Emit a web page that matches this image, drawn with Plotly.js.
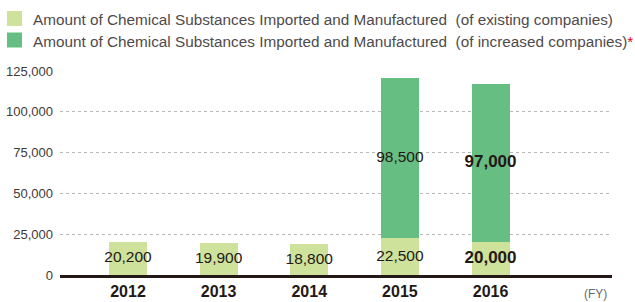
<!DOCTYPE html>
<html>
<head>
<meta charset="utf-8">
<script src="https://cdn.plot.ly/plotly-3.0.1.min.js"></script>
<style>html,body{margin:0;padding:0;background:#fff;}#chart{width:635px;height:302px;}</style>
</head>
<body>
<div id="chart"></div>
<script>
// ---- data ----
var years = ['2012', '2013', '2014', '2015', '2016'];
var existing = [20200, 19900, 18800, 22500, 20000];
var increased = [null, null, null, 98500, 97000];
var yTicks = [0, 25000, 50000, 75000, 100000, 125000];
var seriesNames = [
  'Amount of Chemical Substances Imported and Manufactured  (of existing companies)',
  'Amount of Chemical Substances Imported and Manufactured  (of increased companies)<span style="color:#e60012">*</span>'
];
var seriesColors = ['#cee29b', '#67be83'];
var highlightYear = '2016';

// ---- styles ----
var SANS = "'Liberation Sans', Arial, sans-serif";
var DARK = '#231815';
var fmt = function (v) { return v.toLocaleString('en-US'); };
var lbl = function (v, y) { return y === highlightYear ? '<b>' + fmt(v) + '</b>' : fmt(v); };
var lblSize = function (y) { return y === highlightYear ? 17 : 15.5; };

// label traces built from data
var exX = [], exY = [], exText = [], exSize = [];
existing.forEach(function (v, i) {
  exX.push(years[i]); exY.push(v / 2); exText.push(lbl(v, years[i])); exSize.push(lblSize(years[i]));
});
var incX = [], incY = [], incText = [], incSize = [];
increased.forEach(function (v, i) {
  if (v != null) {
    incX.push(years[i]); incY.push(existing[i] + v / 2);
    incText.push(lbl(v, years[i])); incSize.push(lblSize(years[i]));
  }
});

var traces = [
  { type: 'bar', x: years, y: existing, name: seriesNames[0],
    marker: { color: seriesColors[0] }, width: 0.419, hoverinfo: 'skip', showlegend: false },
  { type: 'bar', x: years, y: increased, name: seriesNames[1],
    marker: { color: seriesColors[1] }, width: 0.419, hoverinfo: 'skip', showlegend: false },
  { type: 'scatter', mode: 'text', x: exX, y: exY, text: exText,
    textposition: 'middle center', cliponaxis: false, showlegend: false, hoverinfo: 'skip',
    textfont: { family: SANS, size: exSize, color: DARK } },
  { type: 'scatter', mode: 'text', x: incX, y: incY, text: incText,
    textposition: 'middle center', cliponaxis: false, showlegend: false, hoverinfo: 'skip',
    textfont: { family: SANS, size: incSize, color: DARK } }
];

// custom legend (squares + names), positioned in pixels relative to plot corner
var PL = 60, PT = 71, PW = 552;
var legendRows = [18.5, 40];
var shapes = [], annotations = [];
seriesNames.forEach(function (name, i) {
  var cy = legendRows[i];
  shapes.push({
    type: 'rect', xref: 'paper', yref: 'paper', xsizemode: 'pixel', ysizemode: 'pixel',
    xanchor: 0, yanchor: 1, x0: 7 - PL, x1: 22 - PL, y0: PT - (cy - 7.5), y1: PT - (cy + 7.5),
    fillcolor: seriesColors[i], line: { width: 0 }
  });
  annotations.push({
    xref: 'paper', yref: 'paper', x: (32 - PL) / PW, y: 1, xanchor: 'left', yanchor: 'middle',
    xshift: -1, yshift: PT - cy - 1, showarrow: false, text: name, align: 'left',
    font: { family: SANS, size: 15.3, color: '#4f4a4b' }
  });
});
annotations.push({
  xref: 'paper', yref: 'paper', x: (595 - PL) / PW, y: 0, xanchor: 'center', yanchor: 'middle',
  yshift: -19, showarrow: false, text: '(FY)',
  font: { family: SANS, size: 12, color: '#6a6a6a' }
});

var layout = {
  width: 635, height: 302,
  margin: { l: PL, r: 23, t: PT, b: 27, pad: 0 },
  paper_bgcolor: '#ffffff', plot_bgcolor: '#ffffff',
  barmode: 'stack',
  showlegend: false,
  xaxis: {
    type: 'category', range: [-0.75, 5.34], fixedrange: true, automargin: false,
    showgrid: false, zeroline: false,
    showline: true, linecolor: DARK, linewidth: 2.5,
    ticks: '', ticklabelstandoff: 0,
    tickfont: { family: SANS, size: 16, color: DARK, weight: 'bold' }
  },
  yaxis: {
    range: [0, 125000], fixedrange: true, automargin: false,
    tickmode: 'array', tickvals: yTicks, ticktext: yTicks.map(fmt),
    showgrid: true, gridcolor: '#b8b8b8', gridwidth: 1, griddash: '3px,3px',
    zeroline: false, showline: false, ticks: '', ticklabelstandoff: 6,
    tickfont: { family: SANS, size: 13, color: '#3e3a39' }
  },
  shapes: shapes,
  annotations: annotations
};

Plotly.newPlot('chart', traces, layout, { staticPlot: true, displayModeBar: false });
</script>
</body>
</html>
